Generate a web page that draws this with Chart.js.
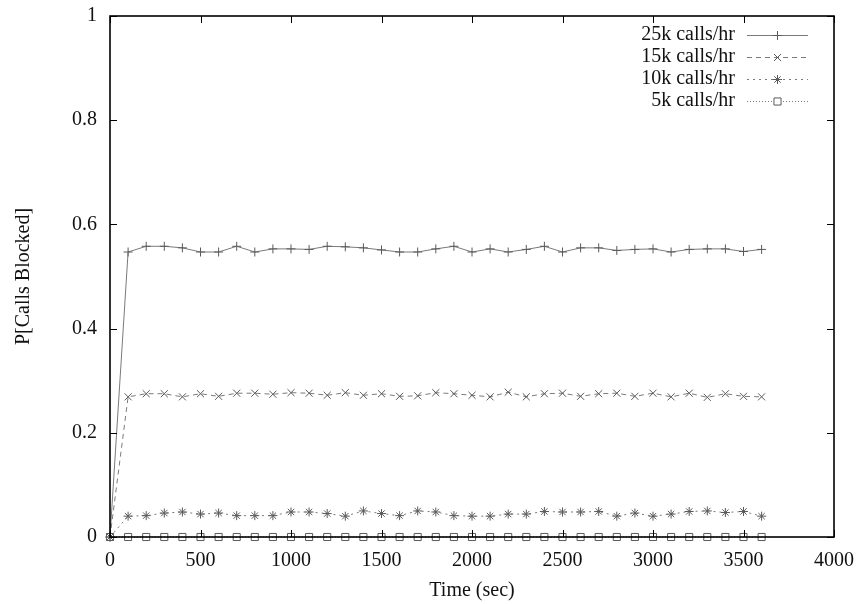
<!DOCTYPE html>
<html>
<head>
<meta charset="utf-8">
<script src="https://cdn.jsdelivr.net/npm/chart.js@4.4.1/dist/chart.umd.min.js"></script>
<style>
    html, body { margin: 0; padding: 0; background: #fff; }
    #wrap { width: 862px; height: 604px; }
</style>
</head>
<body>
<div id="wrap"><canvas id="chart" width="862" height="604"></canvas></div>
<script>
// time axis (sec)
const timeSec = [0, 100, 200, 300, 400, 500, 600, 700, 800, 900, 1000, 1100, 1200, 1300, 1400, 1500, 1600, 1700, 1800,
    1900, 2000, 2100, 2200, 2300, 2400, 2500, 2600, 2700, 2800, 2900, 3000, 3100, 3200, 3300, 3400, 3500, 3600];

// P[Calls Blocked] per load
const blocked25k = [0, 0.547, 0.558, 0.558, 0.555, 0.547, 0.547, 0.558, 0.547, 0.553, 0.553, 0.552, 0.558, 0.557, 0.555,
    0.551, 0.547, 0.547, 0.553, 0.558, 0.547, 0.553, 0.547, 0.552, 0.558, 0.547, 0.555, 0.555, 0.550, 0.552, 0.553,
    0.547, 0.552, 0.553, 0.553, 0.548, 0.552];
const blocked15k = [0, 0.269, 0.275, 0.275, 0.269, 0.275, 0.270, 0.276, 0.276, 0.274, 0.277, 0.276, 0.272, 0.277, 0.272,
    0.275, 0.270, 0.271, 0.277, 0.275, 0.272, 0.269, 0.278, 0.269, 0.275, 0.276, 0.270, 0.275, 0.276, 0.270, 0.276,
    0.269, 0.276, 0.268, 0.275, 0.270, 0.269];
const blocked10k = [0, 0.040, 0.041, 0.046, 0.048, 0.044, 0.046, 0.041, 0.041, 0.041, 0.048, 0.048, 0.045, 0.040, 0.050,
    0.045, 0.041, 0.050, 0.048, 0.041, 0.040, 0.040, 0.044, 0.044, 0.049, 0.048, 0.048, 0.049, 0.040, 0.046, 0.040,
    0.044, 0.049, 0.050, 0.047, 0.049, 0.040];
const blocked5k = [0, 0, 0, 0, 0, 0, 0, 0, 0, 0, 0, 0, 0, 0, 0, 0, 0, 0, 0, 0, 0, 0, 0, 0, 0, 0, 0, 0, 0, 0, 0, 0, 0, 0,
    0, 0, 0];

const seriesNames = ['25k calls/hr', '15k calls/hr', '10k calls/hr', '5k calls/hr'];
const xTicks = [0, 500, 1000, 1500, 2000, 2500, 3000, 3500, 4000];
const yTicks = [0, 0.2, 0.4, 0.6, 0.8, 1];

const FONT = "'Liberation Serif', 'DejaVu Serif', serif";
const toPoints = (vals) => timeSec.map((t, i) => ({ x: t, y: vals[i] }));

function makeSet(label, vals, dash, pointStyle, radius) {
    return {
        label: label,
        data: toPoints(vals),
        borderColor: '#7a7a7a',
        borderWidth: 1,
        borderDash: dash,
        pointStyle: pointStyle,
        pointRadius: radius,
        pointHoverRadius: radius,
        pointBorderColor: '#5a5a5a',
        pointBackgroundColor: 'rgba(0,0,0,0)',
        pointBorderWidth: 1,
        tension: 0,
        clip: false
    };
}

const datasets = [
    makeSet(seriesNames[0], blocked25k, [], 'cross', 4.5),
    makeSet(seriesNames[1], blocked15k, [5, 4], 'crossRot', 5),
    makeSet(seriesNames[2], blocked10k, [2, 4], 'star', 4.5),
    makeSet(seriesNames[3], blocked5k, [1, 2], 'rect', 5)
];

// gnuplot style frame with inward ticks on all sides
const framePlugin = {
    id: 'frame',
    afterDatasetsDraw(chart) {
        const { ctx, chartArea: { left, right, top, bottom }, scales: { x, y } } = chart;
        const len = 7;
        ctx.save();
        ctx.strokeStyle = '#000';
        ctx.lineWidth = 1;
        ctx.beginPath();
        xTicks.forEach(v => {
            const px = Math.round(x.getPixelForValue(v)) + 0.5;
            ctx.moveTo(px, bottom); ctx.lineTo(px, bottom - len);
            ctx.moveTo(px, top); ctx.lineTo(px, top + len);
        });
        yTicks.forEach(v => {
            const py = Math.round(y.getPixelForValue(v)) + 0.5;
            ctx.moveTo(left, py); ctx.lineTo(left + len, py);
            ctx.moveTo(right, py); ctx.lineTo(right - len, py);
        });
        ctx.stroke();
        ctx.lineWidth = 1.6;
        ctx.strokeRect(left, top, right - left, bottom - top);
        ctx.restore();
    }
};

// legend in the top right corner: text right aligned, sample on the right
const keyPlugin = {
    id: 'key',
    afterDraw(chart) {
        const ctx = chart.ctx;
        const textRight = 735, lineL = 747, lineR = 808, rowTop = 35, rowGap = 22;
        ctx.save();
        ctx.font = '20px ' + FONT;
        ctx.textAlign = 'right';
        ctx.textBaseline = 'middle';
        chart.data.datasets.forEach((ds, i) => {
            const yy = rowTop + i * rowGap;
            ctx.fillStyle = '#111';
            ctx.fillText(ds.label, textRight, yy);
            ctx.strokeStyle = ds.borderColor;
            ctx.lineWidth = 1;
            ctx.setLineDash(ds.borderDash);
            ctx.beginPath();
            ctx.moveTo(lineL, yy + 0.5);
            ctx.lineTo(lineR, yy + 0.5);
            ctx.stroke();
            ctx.setLineDash([]);
            ctx.strokeStyle = ds.pointBorderColor;
            ctx.fillStyle = '#fff';
            Chart.helpers.drawPoint(ctx, {
                pointStyle: ds.pointStyle,
                radius: ds.pointRadius,
                rotation: 0,
                borderWidth: 1
            }, (lineL + lineR) / 2, yy + 0.5);
        });
        ctx.restore();
    }
};

new Chart(document.getElementById('chart').getContext('2d'), {
    type: 'line',
    data: { datasets: datasets },
    options: {
        responsive: false,
        animation: false,
        layout: { padding: { top: 16, right: 28, left: 0, bottom: 0 } },
        plugins: {
            legend: { display: false },
            tooltip: { enabled: false }
        },
        scales: {
            x: {
                type: 'linear',
                min: 0,
                max: 4000,
                afterFit: (scale) => {
                    scale.height = 67;
                    scale.paddingLeft = 0;
                    scale.paddingRight = 0;
                },
                afterBuildTicks: (scale) => { scale.ticks = xTicks.map(v => ({ value: v })); },
                grid: { display: false, drawTicks: false },
                border: { display: false },
                ticks: {
                    autoSkip: false,
                    maxRotation: 0,
                    padding: 12,
                    color: '#111',
                    font: { family: FONT, size: 20 },
                    callback: (v) => String(v)
                },
                title: {
                    display: true,
                    text: 'Time (sec)',
                    color: '#111',
                    font: { family: FONT, size: 20 },
                    padding: { top: 0, bottom: 1 }
                }
            },
            y: {
                min: 0,
                max: 1,
                afterFit: (scale) => {
                    scale.width = 110;
                    scale.paddingTop = 0;
                    scale.paddingBottom = 0;
                },
                afterBuildTicks: (scale) => { scale.ticks = yTicks.map(v => ({ value: v })); },
                grid: { display: false, drawTicks: false },
                border: { display: false },
                ticks: {
                    padding: 13,
                    color: '#111',
                    font: { family: FONT, size: 20 },
                    callback: (v) => String(v)
                },
                title: {
                    display: true,
                    text: 'P[Calls Blocked]',
                    color: '#111',
                    font: { family: FONT, size: 20 },
                    padding: { top: 12, bottom: 0 }
                }
            }
        }
    },
    plugins: [framePlugin, keyPlugin]
});
</script>
</body>
</html>
